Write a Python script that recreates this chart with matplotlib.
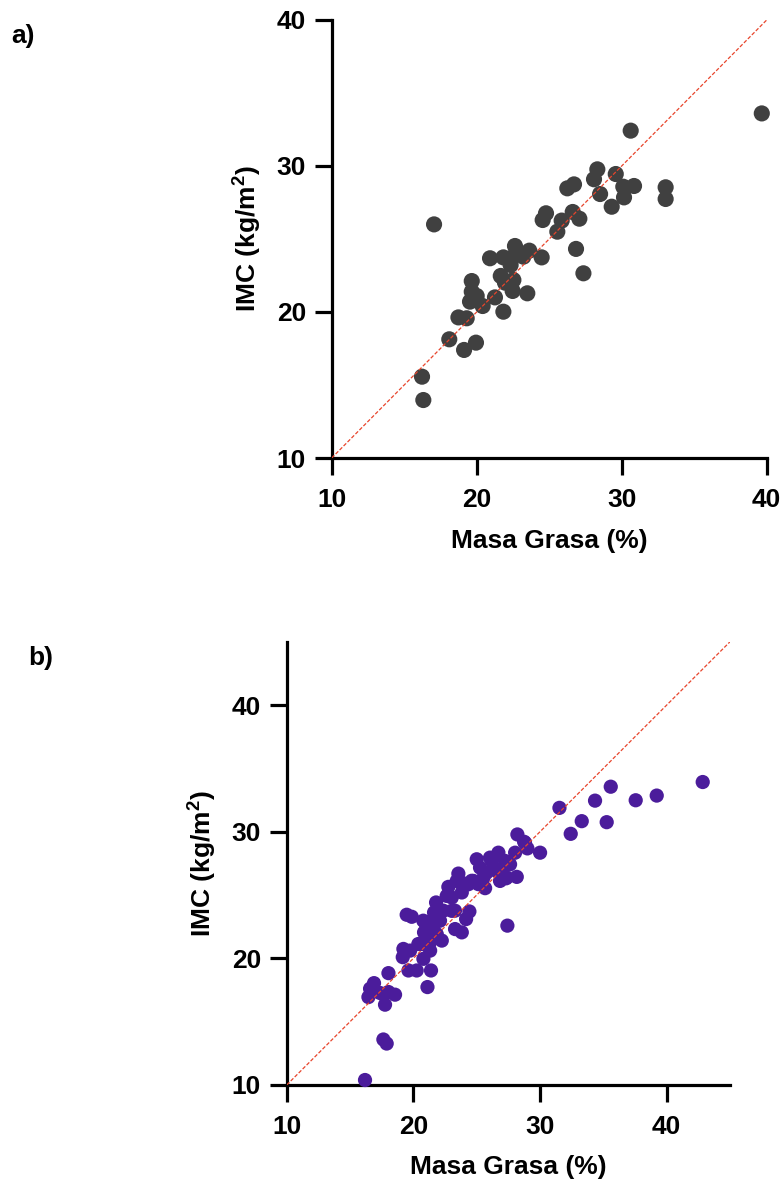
import matplotlib
matplotlib.use("Agg")
import matplotlib.pyplot as plt

plt.rcParams['font.family'] = ['Liberation Sans', 'DejaVu Sans']
plt.rcParams['font.weight'] = 'bold'
plt.rcParams['mathtext.fontset'] = 'custom'
plt.rcParams['mathtext.rm'] = 'Liberation Sans:bold'
plt.rcParams['mathtext.bf'] = 'Liberation Sans:bold'

# panel a) fat mass (%) vs BMI
masa_a = [39.66, 30.62, 17.06, 28.32, 28.09, 29.59, 30.11, 30.85, 28.51, 30.16,
          29.31, 33.03, 33.03, 26.25, 26.71, 26.62, 27.08, 24.78, 24.55, 25.86,
          25.56, 26.85, 27.36, 24.48, 22.64, 23.63, 23.22, 20.92, 21.84, 22.34,
          22.34, 21.66, 22.53, 21.95, 22.48, 23.49, 19.66, 19.66, 20.00, 19.54,
          20.41, 21.26, 21.84, 18.74, 19.31, 18.11, 19.13, 19.95, 16.23, 16.32]
imc_a = [33.60, 32.42, 26.00, 29.77, 29.09, 29.45, 28.58, 28.63, 28.08, 27.85,
         27.21, 28.54, 27.74, 28.47, 28.74, 26.85, 26.39, 26.76, 26.30, 26.26,
         25.50, 24.32, 22.65, 23.74, 24.52, 24.20, 23.79, 23.68, 23.74, 23.68,
         23.22, 22.47, 22.19, 22.01, 21.44, 21.28, 22.12, 21.39, 21.10, 20.71,
         20.41, 21.00, 20.02, 19.63, 19.57, 18.13, 17.40, 17.90, 15.57, 13.97]

# panel b)
masa_b = [42.84, 39.21, 37.55, 35.58, 34.34, 35.26, 33.29, 32.42, 31.53, 30.00,
          29.00, 28.21, 28.74, 28.03, 27.42, 28.16, 27.32, 26.84, 26.71, 26.18,
          27.10, 25.26, 25.53, 25.66, 24.74, 23.95, 23.55, 23.82, 24.34, 22.76,
          22.63, 21.79, 21.63, 22.24, 23.03, 24.42, 24.16, 23.29, 23.82, 19.47,
          19.87, 20.92, 21.58, 20.84, 21.84, 22.24, 20.66, 21.32, 20.79, 19.21,
          19.74, 19.16, 19.61, 20.26, 21.39, 21.11, 18.03, 16.89, 16.58, 16.45,
          17.37, 18.03, 18.55, 17.76, 17.63, 17.89, 16.18, 25.00, 26.58, 23.03,
          22.10, 23.42, 20.39, 27.63, 27.23, 26.97, 27.36, 25.79, 24.60, 23.81,
          25.12, 22.36, 23.28, 20.78, 21.44, 21.31, 28.81, 26.05]
imc_b = [33.92, 32.85, 32.48, 33.55, 32.45, 30.75, 30.83, 29.83, 31.88, 28.34,
         28.68, 29.78, 29.20, 28.34, 22.58, 26.43, 26.32, 26.11, 28.34, 27.68,
         27.16, 27.16, 26.37, 25.54, 26.11, 25.72, 26.69, 25.20, 25.85, 25.64,
         24.93, 24.41, 23.62, 23.75, 23.75, 23.70, 23.10, 22.31, 22.05, 23.44,
         23.28, 22.84, 22.58, 22.05, 21.92, 21.40, 21.13, 20.61, 19.96, 20.74,
         20.61, 20.09, 19.04, 19.04, 19.04, 17.73, 18.83, 18.04, 17.60, 16.94,
         17.26, 17.34, 17.13, 16.34, 13.59, 13.27, 10.39, 27.82, 26.90, 24.80,
         22.97, 26.11, 21.13, 27.42, 27.69, 26.90, 26.38, 26.77, 26.12, 25.98,
         25.86, 23.76, 23.76, 22.97, 22.97, 21.27, 29.13, 27.95]

ticks = [10, 20, 30, 40]

fig = plt.figure(figsize=(7.83, 11.89), dpi=100)
ax_a = fig.add_axes([0.4236, 0.6148, 0.5556, 0.3684])
ax_b = fig.add_axes([0.3662, 0.0875, 0.5662, 0.3728])


def style(ax, lim, color, size, xs, ys):
    ax.scatter(xs, ys, s=size, color=color, edgecolors='none', zorder=3, clip_on=False)
    ax.plot([10, lim], [10, lim], color='#e8452c', lw=0.9, ls=(0, (3, 1.5)), zorder=4)
    ax.set_xlim(10, lim)
    ax.set_ylim(10, lim)
    ax.set_xticks(ticks)
    ax.set_yticks(ticks)
    for side in ['top', 'right']:
        ax.spines[side].set_visible(False)
    for side in ['left', 'bottom']:
        ax.spines[side].set_linewidth(2.3)
    ax.tick_params(width=2.3, length=12.5, labelsize=19)
    ax.tick_params(axis='x', pad=9)
    ax.tick_params(axis='y', pad=6)
    ax.set_xlabel('Masa Grasa (%)', fontsize=19, fontweight='bold', labelpad=12)
    ax.set_ylabel(r'IMC (kg/m$^{2}$)', fontsize=19, fontweight='bold', labelpad=10)
    for lab in ax.get_xticklabels() + ax.get_yticklabels():
        lab.set_fontweight('bold')


style(ax_a, 40, '#404040', 135, masa_a, imc_a)
style(ax_b, 45, '#4b1c9b', 105, masa_b, imc_b)

fig.text(0.015, 0.980, 'a)', fontsize=19, fontweight='bold', va='top')
fig.text(0.036, 0.457, 'b)', fontsize=19, fontweight='bold', va='top')

fig.savefig('out.png', dpi=100)
